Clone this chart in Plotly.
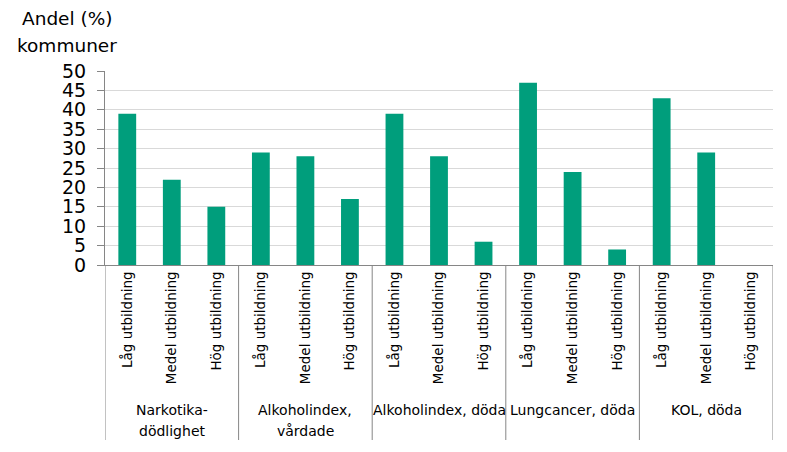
import plotly.graph_objects as go

groups = ["Narkotika-<br>dödlighet", "Alkoholindex,<br>vårdade", "Alkoholindex, döda",
          "Lungcancer, döda", "KOL, döda"]
levels = ["Låg utbildning", "Medel utbildning", "Hög utbildning"]
values = [39, 22, 15,
          29, 28, 17,
          39, 28, 6,
          47, 24, 4,
          43, 29, 0]
y_ticks = [0, 5, 10, 15, 20, 25, 30, 35, 40, 45, 50]

n_lev = len(levels)
x_idx = list(range(len(groups) * n_lev))
tick_text = [levels[i % n_lev] for i in x_idx]

FONT = "DejaVu Sans"
OFF = 8  # page body margin
fig = go.Figure()
fig.add_trace(go.Bar(x=x_idx, y=values, marker=dict(color="#009e7c", line=dict(width=0)),
                     width=0.4, hoverinfo="y"))

H = 194
W = 668
L = 105 - OFF
T = 71 - OFF
fig.update_layout(
    width=787, height=452,
    margin=dict(l=L, r=787 - L - W, t=T, b=452 - T - H),
    paper_bgcolor="white", plot_bgcolor="white",
    showlegend=False,
    font=dict(family=FONT, color="black"),
    xaxis=dict(range=[-0.5, len(x_idx) - 0.5], tickmode="array", tickvals=x_idx,
               ticktext=tick_text, tickangle=-90, tickfont=dict(size=13.5, family=FONT),
               showline=True, linecolor="#868686", linewidth=1, ticks="",
               showgrid=False, zeroline=False, fixedrange=True, automargin=False),
    yaxis=dict(range=[0, 50], tickmode="array", tickvals=y_ticks,
               tickfont=dict(size=19, family=FONT), showgrid=True,
               gridcolor="#d9d9d9", gridwidth=1, showline=True, linecolor="#868686",
               ticks="outside", ticklen=7, tickcolor="#868686", zeroline=False,
               ticklabelstandoff=7, fixedrange=True, automargin=False),
)

# group divider lines
bottom = -(440 - 265) / H
for g in range(len(groups) + 1):
    xb = g * n_lev - 0.5
    fig.add_shape(type="line", xref="x", yref="paper", x0=xb, x1=xb, y0=0, y1=bottom,
                  line=dict(color="#868686", width=1))

# group labels
for g, name in enumerate(groups):
    cx = g * n_lev + (n_lev - 1) / 2
    for li, line in enumerate(name.split("<br>")):
        yc = 410 + 21 * li
        fig.add_annotation(x=cx, xref="x", y=-(yc - 265) / H, yref="paper",
                           text=line, showarrow=False, xanchor="center", yanchor="middle",
                           font=dict(size=14, family=FONT))

# y axis title
for li, line in enumerate(["Andel (%)", "kommuner"]):
    yc = 18 + 27 * li
    fig.add_annotation(x=(67 - 105) / W, xref="paper", y=(265 - yc) / H, yref="paper",
                       text=line, showarrow=False, xanchor="center", yanchor="middle",
                       font=dict(size=18.5, family=FONT))

fig.write_html("out.html")
